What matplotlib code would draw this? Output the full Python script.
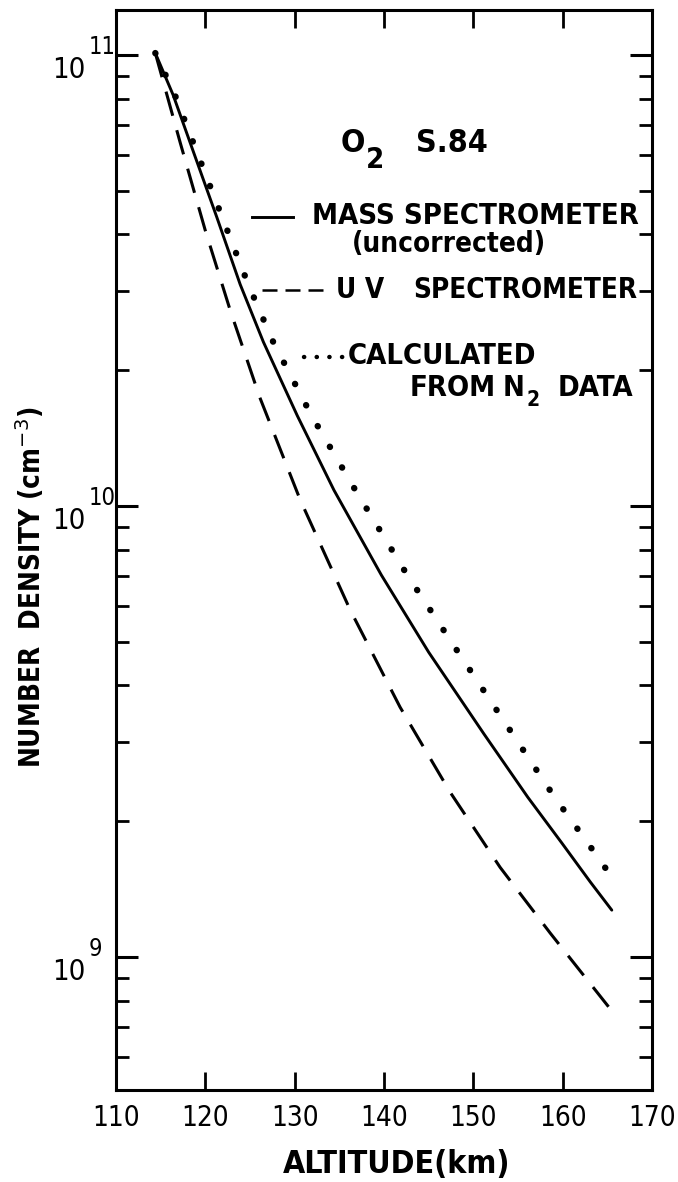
import numpy as np
import matplotlib
matplotlib.use("Agg")
import matplotlib.pyplot as plt
from matplotlib.lines import Line2D
from matplotlib.ticker import LogLocator, NullFormatter, FixedLocator

# ---------------- data ----------------
alt_mass = [114.4, 116.4, 118.9, 121.3, 123.9, 126.5, 130.3, 134.4, 139.7,
            145.0, 151.2, 156.1, 159.9, 163.1, 165.5]
n_mass = [1.01e11, 8.15e10, 5.92e10, 4.36e10, 3.10e10, 2.31e10, 1.585e10,
          1.084e10, 7.03e9, 4.74e9, 3.12e9, 2.26e9, 1.79e9, 1.466e9, 1.27e9]

alt_uv = [114.4, 117.2, 120.0, 122.8, 126.1, 130.6, 136.2, 141.8, 147.4,
          153.0, 158.6, 165.6]
n_uv = [1.01e11, 6.38e10, 4.08e10, 2.71e10, 1.74e10, 1.034e10, 5.89e9,
        3.58e9, 2.32e9, 1.58e9, 1.13e9, 7.55e8]

alt_calc = [114.4, 116.6, 119.3, 121.9, 124.8, 127.6, 131.9, 136.8, 142.6,
            148.3, 154.4, 159.1, 162.8, 165.9]
n_calc = [1.01e11, 8.15e10, 5.92e10, 4.36e10, 3.10e10, 2.31e10, 1.585e10,
          1.084e10, 7.03e9, 4.74e9, 3.12e9, 2.26e9, 1.79e9, 1.466e9]

xticks = [110, 120, 130, 140, 150, 160, 170]
xtick_labels = ["110", "120", "130", "140", "150", "160", "170"]
ytick_exps = [9, 10, 11]

# ---------------- figure ----------------
W, H = 678, 1182
fig = plt.figure(figsize=(W / 100, H / 100), dpi=100)
fig.patch.set_facecolor("white")

def fx(px):
    return px / W

def fy(py):
    return 1 - py / H

L, R, T, B = 116, 652, 10, 1090
ax = fig.add_axes([fx(L), fy(B), (R - L) / W, (B - T) / H])
ax.set_yscale("log")
ax.set_xlim(110, 170)
ax.set_ylim(10 ** 8.705, 10 ** 11.0998)

fam = ["DejaVu Sans"]
txt = dict(family=fam, fontstretch="condensed", fontweight="bold")
num = dict(family=fam, fontstretch="condensed")

# curves
ax.plot(alt_mass, n_mass, color="k", lw=2.1, solid_capstyle="round")
ax.plot(alt_uv, n_uv, color="k", lw=2.2, dashes=(8.2, 4.9))
ax.plot(alt_calc, n_calc, color="k", lw=4.6, linestyle=(0, (0.05, 3.7)),
        dash_capstyle="round")

# spines / ticks
for s in ax.spines.values():
    s.set_linewidth(2.2)
ax.xaxis.set_major_locator(FixedLocator(xticks))
ax.set_xticklabels(xtick_labels, fontsize=20, **num)
ax.tick_params(axis="x", which="major", direction="in", length=13, width=2.0,
               top=True, bottom=True, pad=10)
ax.yaxis.set_major_locator(LogLocator(base=10, numticks=20))
ax.yaxis.set_minor_locator(LogLocator(base=10, subs=np.arange(2, 10), numticks=20))
ax.yaxis.set_major_formatter(NullFormatter())
ax.yaxis.set_minor_formatter(NullFormatter())
ax.tick_params(axis="y", which="major", direction="in", length=16, width=2.2,
               left=True, right=True)
ax.tick_params(axis="y", which="minor", direction="in", length=9.5, width=2.0,
               left=True, right=True)

# y tick labels: 10^k drawn as base + raised exponent
for k in ytick_exps:
    ax.annotate("10", xy=(0, 10.0 ** k), xycoords=("axes fraction", "data"),
                xytext=(-22, -11), textcoords="offset points", ha="right",
                va="center", fontsize=21, **num)
    ax.annotate(str(k), xy=(0, 10.0 ** k), xycoords=("axes fraction", "data"),
                xytext=(-20, 6), textcoords="offset points", ha="left",
                va="center", fontsize=17, **num)

# axis labels
fig.text(fx(397), fy(1164), "ALTITUDE(km)", ha="center", va="center",
         fontsize=23, **txt)
fig.text(fx(31), fy(587), "NUMBER  DENSITY (cm$^{-3}$)", rotation=90,
         ha="center", va="center", fontsize=20, **txt)

# title inside the plot
fig.text(fx(341), fy(143), "O", ha="left", va="center", fontsize=23, **txt)
fig.text(fx(366), fy(160), "2", ha="left", va="center", fontsize=21, **txt)
fig.text(fx(416), fy(143), "S.84", ha="left", va="center", fontsize=23, **txt)

# legend block
fig.add_artist(Line2D([fx(252), fx(293)], [fy(217), fy(217)], color="k", lw=2.1))
fig.text(fx(312), fy(216), "MASS SPECTROMETER", ha="left", va="center",
         fontsize=21, **txt)
fig.text(fx(352), fy(244), "(uncorrected)", ha="left", va="center",
         fontsize=20, **txt)

fig.add_artist(Line2D([fx(262), fx(328)], [fy(290), fy(290)], color="k",
                      lw=1.8, dashes=(6.0, 3.2)))
fig.text(fx(336), fy(290), "U V", ha="left", va="center", fontsize=20, **txt)
fig.text(fx(413), fy(290), "SPECTROMETER", ha="left", va="center",
         fontsize=20, **txt)

fig.add_artist(Line2D([fx(304), fx(344)], [fy(357), fy(357)], color="k",
                      lw=3.2, linestyle=(0, (0.05, 2.8)), dash_capstyle="round"))
fig.text(fx(348), fy(356), "CALCULATED", ha="left", va="center",
         fontsize=21, **txt)
fig.text(fx(410), fy(388), "FROM", ha="left", va="center", fontsize=21, **txt)
fig.text(fx(503), fy(388), "N", ha="left", va="center", fontsize=21, **txt)
fig.text(fx(527), fy(400), "2", ha="left", va="center", fontsize=15, **txt)
fig.text(fx(558), fy(388), "DATA", ha="left", va="center", fontsize=21, **txt)

fig.savefig("out.png", dpi=100, facecolor="white")
